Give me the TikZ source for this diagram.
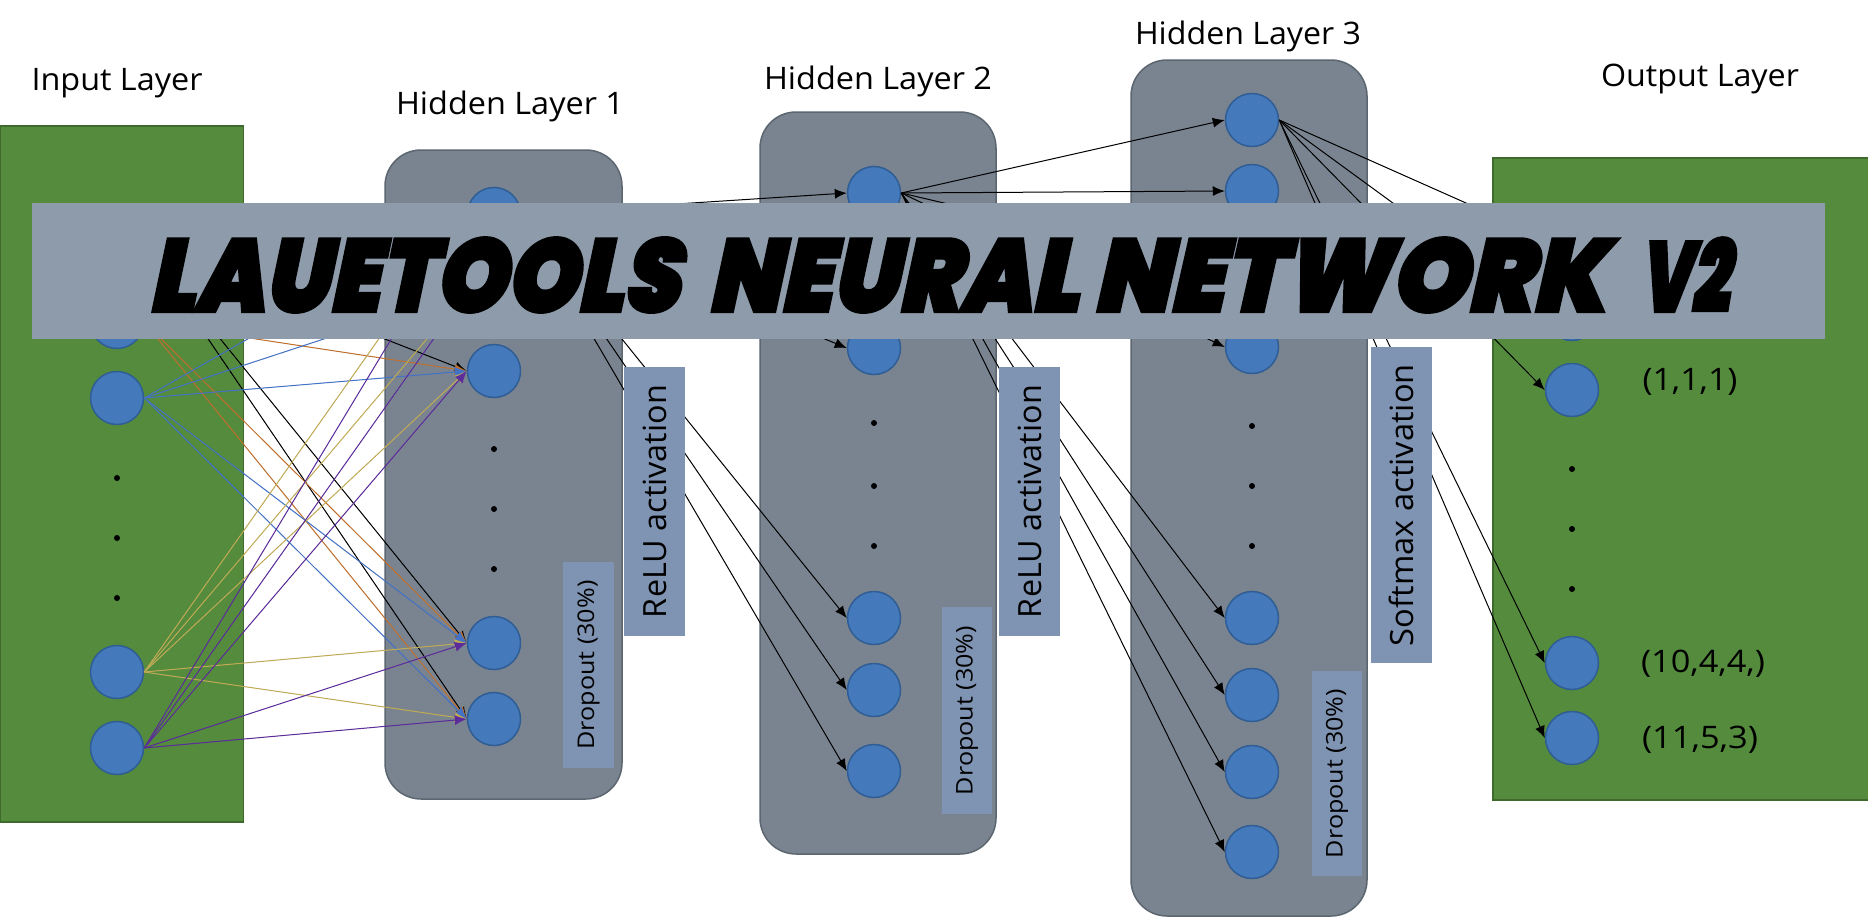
\documentclass[tikz,border=0pt]{standalone}
\usepackage{fontspec}
\usepackage{graphicx}
\setmainfont{Open Sans}
\newfontfamily\titlefont[FakeSlant=0.24,FakeBold=3]{Poppins Black}
\usetikzlibrary{arrows.meta}
\definecolor{greenfill}{HTML}{548B3D}
\definecolor{greenline}{HTML}{3E6A2B}
\definecolor{panelfill}{HTML}{7A8490}
\definecolor{panelline}{HTML}{5C6670}
\definecolor{neuronfill}{HTML}{4479BC}
\definecolor{neuronline}{HTML}{2F5D94}
\definecolor{tagfill}{HTML}{7F93B3}
\definecolor{bannerfill}{HTML}{8D9BAA}
\definecolor{conorange}{HTML}{BE6F2E}
\definecolor{conblue}{HTML}{4472C4}
\definecolor{conyellow}{HTML}{BFAA55}
\definecolor{conpurple}{HTML}{5B2C9A}
\newcommand{\fitw}[2]{\resizebox{#1pt}{\height}{#2}}
\newcommand{\tword}[2]{\resizebox{#1pt}{74pt}{\titlefont\vphantom{O}#2}}
\tikzset{
  layerbox/.style={draw=greenline,line width=1.5pt,fill=greenfill,inner sep=0,outer sep=0},
  panel/.style={draw=panelline,line width=1.5pt,fill=panelfill,rounded corners=36pt},
  neuron/.style={circle,draw=neuronline,line width=1.5pt,fill=neuronfill,minimum size=53pt,inner sep=0},
  dotmark/.style={circle,fill=black,minimum size=6pt,inner sep=0},
  conn/.style={line width=1pt,-{Latex[length=12pt,width=10pt]}},
  tag/.style={fill=tagfill,inner sep=0,rotate=90,font=\fontsize{32}{36}\selectfont},
  droptag/.style={fill=tagfill,inner sep=0,rotate=90,font=\fontsize{23}{26}\selectfont},
  heading/.style={font=\fontsize{31}{36}\selectfont},
  outlabel/.style={font=\fontsize{31}{36}\selectfont,anchor=center}
}
\begin{document}
\begin{tikzpicture}[x=1pt,y=-1pt]
\useasboundingbox (0,0) rectangle (1868,918);
% panels
\path[layerbox] (0,126) rectangle (243.5,822);
\path[layerbox] (1493,158) rectangle (1869,800);
\path[panel] (385,150) rectangle (622,799);
\path[panel] (760,112) rectangle (996,854);
\path[panel] (1131,60) rectangle (1367,916);
% headings
\node[heading] (hin) at (117,83) {\fitw{171}{Input Layer}};
\node[heading] (h1) at (510,106) {\fitw{228}{Hidden Layer 1}};
\node[heading] (h2) at (878,81) {\fitw{228}{Hidden Layer 2}};
\node[heading] (h3) at (1248,36) {\fitw{226}{Hidden Layer 3}};
\node[heading] (hout) at (1700,79) {\fitw{198}{Output Layer}};
% neurons
\foreach \n/\y in {a/245,b/322,c/398,d/672,e/748} \node[neuron] (i\n) at (117,\y) {};
\foreach \n/\y in {a/214,b/292,c/371,d/643,e/719} \node[neuron] (p\n) at (494,\y) {};
\foreach \n/\y in {a/193,b/270,c/348,d/618,e/690,f/771} \node[neuron] (q\n) at (874,\y) {};
\foreach \n/\y in {a/120,b/191,c/269,d/347,e/618,f/695,g/772,h/852} \node[neuron] (r\n) at (1252,\y) {};
\foreach \n/\y in {a/238,b/314,c/390,d/663,e/738} \node[neuron] (o\n) at (1572,\y) {};
% dots
\foreach \n/\y in {a/478,b/538,c/598} \node[dotmark] (di\n) at (117,\y) {};
\foreach \n/\y in {a/449,b/509,c/569} \node[dotmark] (dp\n) at (494,\y) {};
\foreach \n/\y in {a/423,b/486,c/546} \node[dotmark] (dq\n) at (874,\y) {};
\foreach \n/\y in {a/426,b/486,c/546} \node[dotmark] (dr\n) at (1252,\y) {};
\foreach \n/\y in {a/469,b/529,c/589} \node[dotmark] (do\n) at (1572,\y) {};
% connectors
\foreach \s/\c in {a/black,b/conorange,c/conblue,d/conyellow,e/conpurple}
  \foreach \t in {a,b,c,d,e}
    \draw[conn,draw=\c,fill=\c] (i\s.east) -- (p\t.west);
\foreach \t in {a,b,c,d,e,f} \draw[conn] (pa.east) -- (q\t.west);
\foreach \t in {a,b,c,d,e,f,g,h} \draw[conn] (qa.east) -- (r\t.west);
\foreach \t in {a,b,c,d,e} \draw[conn] (ra.east) -- (o\t.west);
% output labels
\node[outlabel] (l1) at (1690,382) {\fitw{95}{(1,1,1)}};
\node[outlabel] (l2) at (1703,664) {\fitw{124}{(10,4,4,)}};
\node[outlabel] (l3) at (1700,740) {\fitw{116}{(11,5,3)}};
% tags
\node[tag,minimum width=269pt,minimum height=61pt] (t1) at (654.5,501.5) {\fitw{233}{ReLU activation}};
\node[tag,minimum width=269pt,minimum height=61pt] (t2) at (1029.5,501.5) {\fitw{233}{ReLU activation}};
\node[tag,minimum width=316pt,minimum height=61pt] (t3) at (1401.5,505) {\fitw{282}{Softmax activation}};
\node[droptag,minimum width=206pt,minimum height=51pt] (d1) at (588.5,665) {\fitw{169}{Dropout (30\%)}};
\node[droptag,minimum width=207pt,minimum height=50pt] (d2) at (967,710.5) {\fitw{169}{Dropout (30\%)}};
\node[droptag,minimum width=205pt,minimum height=50pt] (d3) at (1337,773.5) {\fitw{169}{Dropout (30\%)}};
% banner
\node[fill=bannerfill,minimum width=1793pt,minimum height=136pt,inner sep=0] (banner) at (928.5,271) {};
\node[inner sep=0,anchor=west] (title) at (148,275) {\tword{530}{LAUETOOLS}\hspace{29pt}\tword{370}{NEURAL}\hspace{15pt}\tword{512}{NETWORK}\hspace{34pt}\tword{90}{V2}};
\end{tikzpicture}
\end{document}
